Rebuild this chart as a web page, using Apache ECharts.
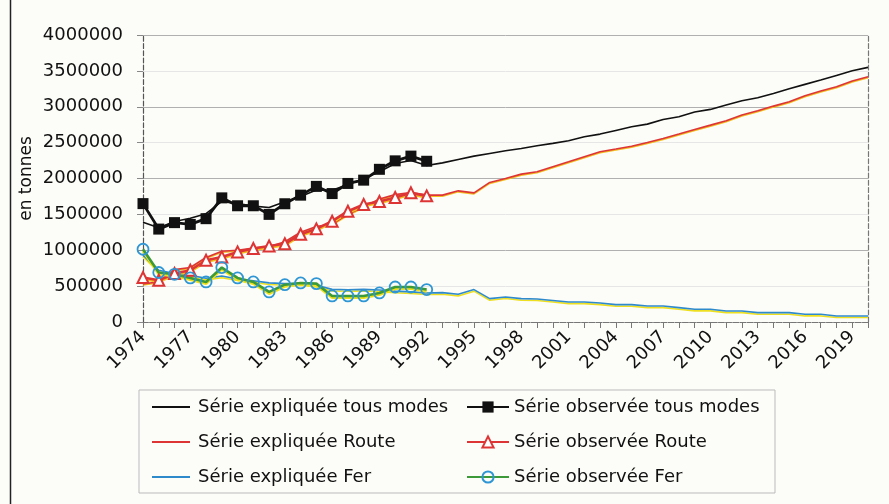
<!DOCTYPE html>
<html>
<head>
<meta charset="utf-8">
<script src="https://cdn.jsdelivr.net/npm/echarts@6/dist/echarts.min.js"></script>
<style>
  html, body { margin: 0; padding: 0; background: #fcfcf8; }
  #chart { width: 889px; height: 504px; }
</style>
</head>
<body>
<div id="chart"></div>
<script>
// années 1974 -> 2020
const years = [
  '1974', '1975', '1976', '1977', '1978', '1979', '1980', '1981', '1982', '1983',
  '1984', '1985', '1986', '1987', '1988', '1989', '1990', '1991', '1992', '1993',
  '1994', '1995', '1996', '1997', '1998', '1999', '2000', '2001', '2002', '2003',
  '2004', '2005', '2006', '2007', '2008', '2009', '2010', '2011', '2012', '2013',
  '2014', '2015', '2016', '2017', '2018', '2019', '2020'
];

// séries expliquées (modèle), 1974 -> 2020
const expliqueeTous = [
  1390000, 1315000, 1400000, 1445000, 1510000, 1680000, 1650000, 1615000, 1595000, 1675000,
  1750000, 1840000, 1835000, 1915000, 1995000, 2095000, 2210000, 2250000, 2180000, 2218000,
  2266000, 2312000, 2349000, 2386000, 2419000, 2456000, 2489000, 2525000, 2581000, 2619000,
  2670000, 2721000, 2758000, 2823000, 2860000, 2926000, 2963000, 3023000, 3083000, 3125000,
  3186000, 3251000, 3312000, 3372000, 3437000, 3502000, 3549000
];
const expliqueeRoute = [
  530000, 560000, 730000, 760000, 900000, 985000, 1000000, 1030000, 1050000, 1120000,
  1250000, 1330000, 1365000, 1500000, 1605000, 1715000, 1775000, 1805000, 1768000, 1768000,
  1828000, 1800000, 1945000, 2000000, 2061000, 2093000, 2163000, 2232000, 2302000, 2372000,
  2410000, 2450000, 2503000, 2558000, 2619000, 2684000, 2744000, 2805000, 2884000, 2944000,
  3009000, 3070000, 3153000, 3219000, 3279000, 3358000, 3418000
];
const expliqueeFer = [
  930000, 720000, 675000, 650000, 610000, 640000, 600000, 575000, 545000, 535000,
  540000, 512000, 455000, 450000, 455000, 445000, 430000, 420000, 405000, 410000,
  386000, 452000, 326000, 349000, 326000, 321000, 300000, 279000, 279000, 265000,
  242000, 242000, 223000, 223000, 200000, 177000, 177000, 153000, 153000, 131000,
  131000, 131000, 107000, 107000, 84000, 84000, 84000
];

// séries observées, 1974 -> 1992
const observeeTous = [
  1650000, 1295000, 1385000, 1360000, 1440000, 1730000, 1620000, 1620000, 1500000, 1648000,
  1768000, 1890000, 1790000, 1931000, 1977000, 2128000, 2246000, 2312000, 2240000
];
const observeeRoute = [
  620000, 582000, 675000, 721000, 861000, 907000, 977000, 1024000, 1060000, 1090000,
  1224000, 1298000, 1405000, 1544000, 1638000, 1680000, 1735000, 1800000, 1758000
];
const observeeFer = [
  1014000, 690000, 665000, 614000, 558000, 759000, 614000, 558000, 419000, 520000,
  544000, 535000, 363000, 363000, 363000, 405000, 488000, 488000, 452000
];

const FONT = 'DejaVu Sans';

const chart = echarts.init(document.getElementById('chart'));

const option = {
  backgroundColor: '#fcfcf8',
  animation: false,
  grid: { left: 143, right: 21, top: 35, bottom: 182 },
  legend: [
    {
      // colonne de gauche : simples traits
      orient: 'vertical',
      left: 147,
      top: 393,
      icon: 'rect',
      itemWidth: 38,
      itemHeight: 2,
      itemGap: 17,
      textStyle: { fontFamily: FONT, fontSize: 18, color: '#111', padding: [0, 0, 0, 3] },
      data: ['Série expliquée tous modes', 'Série expliquée Route', 'Série expliquée Fer']
    },
    {
      orient: 'vertical',
      left: 461,
      top: 393,
      itemWidth: 42,
      itemHeight: 14,
      itemGap: 17,
      textStyle: { fontFamily: FONT, fontSize: 18, color: '#111' },
      data: ['Série observée tous modes', 'Série observée Route', 'Série observée Fer']
    }
  ],
  graphic: [
    {
      type: 'rect',
      shape: { x: 139, y: 390, width: 636, height: 103 },
      style: { fill: 'none', stroke: '#bbbbbb', lineWidth: 1 },
      z: -1
    },
    {
      type: 'line',
      shape: { x1: 10.5, y1: 0, x2: 10.5, y2: 504 },
      style: { stroke: '#222', lineWidth: 1.5 }
    }
  ],
  xAxis: [
    {
      type: 'category',
      data: years,
      boundaryGap: false,
      axisLine: { lineStyle: { color: '#555', type: 'dashed', width: 1.2 } },
      axisTick: { interval: 0, length: 6, lineStyle: { color: '#777' } },
      axisLabel: {
        interval: 2,
        rotate: 45,
        margin: 12,
        fontFamily: FONT,
        fontSize: 18,
        color: '#111'
      },
      splitLine: { show: false }
    },
    {
      type: 'category',
      data: years,
      boundaryGap: false,
      position: 'top',
      axisLine: { lineStyle: { color: '#777', type: 'dashed', width: 1.2 } },
      axisTick: { show: false },
      axisLabel: { show: false }
    }
  ],
  yAxis: [
    {
      type: 'value',
      min: 0,
      max: 4000000,
      interval: 500000,
      name: 'en tonnes',
      nameLocation: 'middle',
      nameGap: 108,
      nameMoveOverlap: false,
      nameTextStyle: { fontFamily: FONT, fontSize: 17, color: '#111' },
      axisLine: { show: true, lineStyle: { color: '#555', type: 'dashed', width: 1.2 } },
      axisTick: { show: true, length: 6, lineStyle: { color: '#888' } },
      axisLabel: {
        margin: 20,
        fontFamily: FONT,
        fontSize: 18,
        color: '#111',
        formatter: v => String(v)
      },
      splitLine: { lineStyle: { color: ['#b0b0b0', '#e6e6e6'], width: 1 } }
    },
    {
      type: 'value',
      min: 0,
      max: 4000000,
      interval: 500000,
      position: 'right',
      axisLine: { show: true, lineStyle: { color: '#777', type: 'dashed', width: 1.2 } },
      axisTick: { show: false },
      axisLabel: { show: false },
      splitLine: { show: false }
    }
  ],
  series: [
    {
      name: 'Série expliquée tous modes',
      type: 'line',
      data: expliqueeTous,
      symbol: 'none',
      lineStyle: { color: '#111', width: 1.6 },
      itemStyle: { color: '#111' },
      z: 2
    },
    {
      name: 'Série expliquée Route',
      type: 'line',
      data: expliqueeRoute,
      symbol: 'none',
      lineStyle: { color: '#dd3535', width: 1.6, shadowColor: '#f2c020', shadowOffsetY: 1, shadowBlur: 0 },
      itemStyle: { color: '#dd3535' },
      z: 2
    },
    {
      name: 'Série expliquée Fer',
      type: 'line',
      data: expliqueeFer,
      symbol: 'none',
      lineStyle: { color: '#2f8acb', width: 1.6, shadowColor: '#eee020', shadowOffsetY: 1.6, shadowBlur: 0 },
      itemStyle: { color: '#2f8acb' },
      z: 2
    },
    {
      name: 'Série observée tous modes',
      type: 'line',
      data: observeeTous,
      symbol: 'rect',
      symbolSize: 11,
      showAllSymbol: true,
      lineStyle: { color: '#111', width: 2.8 },
      itemStyle: { color: '#111' },
      z: 3
    },
    {
      name: 'Série observée Route',
      type: 'line',
      data: observeeRoute,
      symbol: 'emptyTriangle',
      symbolSize: 11,
      showAllSymbol: true,
      lineStyle: { color: '#dd3535', width: 2.6, shadowColor: '#f2c020', shadowOffsetY: 1.5, shadowBlur: 0 },
      itemStyle: { color: '#dd3535', borderWidth: 1.5 },
      z: 3
    },
    {
      name: 'Série observée Fer',
      type: 'line',
      data: observeeFer,
      symbol: 'circle',
      symbolSize: 11,
      showAllSymbol: true,
      lineStyle: { color: '#3d9a38', width: 2.6, shadowColor: '#eee020', shadowOffsetY: 1.8, shadowBlur: 0 },
      itemStyle: { color: 'rgba(255,255,255,0)', borderColor: '#2e96d4', borderWidth: 1.8 },
      z: 3
    }
  ]
};

chart.setOption(option);
</script>
</body>
</html>
